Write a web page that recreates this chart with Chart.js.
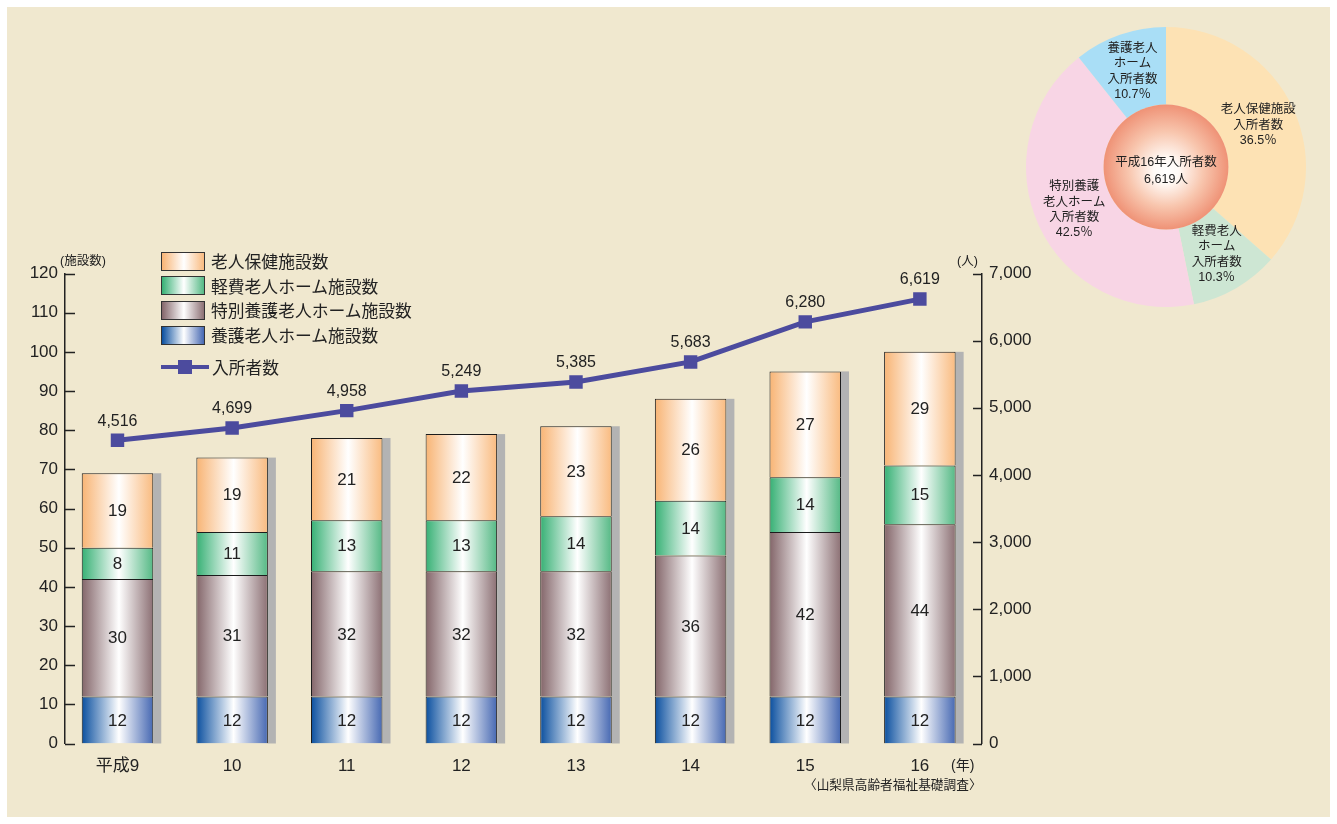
<!DOCTYPE html>
<html lang="ja">
<head>
<meta charset="utf-8">
<title>老人福祉施設数と入所者数の推移</title>
<script src="https://cdn.jsdelivr.net/npm/chart.js@4.4.0/dist/chart.umd.min.js"></script>
<style>
  body { margin: 0; background: #fff; width: 1337px; height: 824px; overflow: hidden;
         font-family: "Liberation Sans", "Noto Sans CJK JP", sans-serif; color: #222; }
  #page { position: absolute; left: 7px; top: 7px; width: 1323px; height: 810px; background: #f0e8cf; }
  canvas { position: absolute; }
  #main { left: 0; top: 0; }
  #pie { left: 1026px; top: 27px; }
  .txt { position: absolute; white-space: nowrap; line-height: 1; }
  .row { position: absolute; left: 161px; height: 20px; display: flex; align-items: center; font-size: 16.8px; white-space: nowrap; }
  .sw { width: 42px; height: 17px; border: 1.5px solid #333; margin-right: 6px; }
  .ln { position: relative; width: 48px; height: 4px; background: #4c4b9e; margin-right: 3px; }
  .ln span { position: absolute; left: 17px; top: -5px; width: 14px; height: 14px; background: #4c4b9e; }
</style>
</head>
<body>
<div id="page"></div>
<canvas id="main" width="1337" height="824"></canvas>
<canvas id="pie" width="280" height="280"></canvas>
<div id="legend"></div>
<div class="txt" style="left:60px; top:255px; font-size:12.5px;">(施設数)</div>
<div class="txt" style="left:957px; top:255px; font-size:12.5px;">(人)</div>
<div class="txt" style="left:951px; top:758px; font-size:14px;">(年)</div>
<div class="txt" style="left:804px; top:779px; font-size:12.7px;">〈山梨県高齢者福祉基礎調査〉</div>
<script>
// data
const years = ["平成9", "10", "11", "12", "13", "14", "15", "16"];
const yogoHome = [12, 12, 12, 12, 12, 12, 12, 12];
const tokuyoHome = [30, 31, 32, 32, 32, 36, 42, 44];
const keihiHome = [8, 11, 13, 13, 14, 14, 14, 15];
const rokenShisetsu = [19, 19, 21, 22, 23, 26, 27, 29];
const nyushosha = [4516, 4699, 4958, 5249, 5385, 5683, 6280, 6619];
const leftTicks = [0, 10, 20, 30, 40, 50, 60, 70, 80, 90, 100, 110, 120];
const rightTicks = [0, 1000, 2000, 3000, 4000, 5000, 6000, 7000];

const pieNames = ["老人保健施設\n入所者数", "軽費老人\nホーム\n入所者数", "特別養護\n老人ホーム\n入所者数", "養護老人\nホーム\n入所者数"];
const pieShares = [36.5, 10.3, 42.5, 10.7];
const pieTitle = ["平成16年入所者数", "6,619人"];

// styles
const FONT = '"Liberation Sans", "Noto Sans CJK JP", sans-serif';
const BAR_PCT = 0.624;
const barColors = {
  yogo: ["#0a4f9f", "#4668b2"],
  tokuyo: ["#836569", "#8c7074"],
  keihi: ["#36b074", "#55b985"],
  roken: ["#f8b474", "#f9bb80"],
};
const pieColors = ["#fde2b4", "#cde6d3", "#f8d5e5", "#a9def6"];
const lineColor = "#4c4b9e";

// legend (html)
const legendItems = [
  ["老人保健施設数", barColors.roken],
  ["軽費老人ホーム施設数", barColors.keihi],
  ["特別養護老人ホーム施設数", barColors.tokuyo],
  ["養護老人ホーム施設数", barColors.yogo],
];
const legend = document.getElementById("legend");
legendItems.forEach(([name, c], i) => {
  const row = document.createElement("div");
  row.className = "row";
  row.style.top = (251 + i * 24.7) + "px";
  row.innerHTML = `<div class="sw" style="background:linear-gradient(to right, ${c[0]}, #fff 52%, ${c[1]})"></div>${name}`;
  legend.appendChild(row);
});
const lineRow = document.createElement("div");
lineRow.className = "row";
lineRow.style.top = "357px";
lineRow.innerHTML = `<div class="ln"><span></span></div>入所者数`;
legend.appendChild(lineRow);

function barFill(c) {
  return (ctx) => {
    const chart = ctx.chart;
    if (!chart.chartArea || ctx.type !== "data") return c[0];
    const xs = chart.scales.x;
    const cx = xs.getPixelForValue(ctx.dataIndex);
    const half = (xs.getPixelForValue(1) - xs.getPixelForValue(0)) * BAR_PCT / 2;
    const g = chart.ctx.createLinearGradient(cx - half, 0, cx + half, 0);
    g.addColorStop(0, c[0]);
    g.addColorStop(0.52, "#ffffff");
    g.addColorStop(1, c[1]);
    return g;
  };
}

function points(arr) {
  return arr.map((v, i) => ({ x: i, y: v }));
}

function barSet(label, arr, c) {
  return {
    type: "bar",
    label,
    data: points(arr),
    backgroundColor: barFill(c),
    borderColor: "#1c1c1c",
    borderWidth: 1,
    barPercentage: BAR_PCT,
    categoryPercentage: 1,
    yAxisID: "y",
    order: 1,
  };
}

// grey shadow at the right of each bar
const shadowPlugin = {
  id: "shadow",
  beforeDatasetsDraw(chart) {
    const c = chart.ctx;
    const bottom = chart.scales.y.getPixelForValue(0);
    c.save();
    c.fillStyle = "#b3b3b3";
    chart.getDatasetMeta(3).data.forEach((bar) => {
      c.fillRect(bar.x + bar.width / 2, bar.y, 8, bottom - bar.y);
    });
    c.restore();
  },
};

// inward tick marks + value labels
const labelPlugin = {
  id: "labels",
  afterDatasetsDraw(chart) {
    const c = chart.ctx;
    const { left, right } = chart.chartArea;
    c.save();
    c.strokeStyle = "#222";
    c.lineWidth = 1.5;
    c.beginPath();
    chart.scales.y.ticks.forEach((t) => {
      const y = Math.round(chart.scales.y.getPixelForValue(t.value)) + 0.5;
      c.moveTo(left, y);
      c.lineTo(left + 10, y);
    });
    chart.scales.y1.ticks.forEach((t) => {
      const y = Math.round(chart.scales.y1.getPixelForValue(t.value)) + 0.5;
      c.moveTo(right, y);
      c.lineTo(right - 9, y);
    });
    c.stroke();

    c.fillStyle = "#222";
    c.textAlign = "center";
    c.textBaseline = "middle";
    c.font = "17px " + FONT;
    for (let d = 0; d < 4; d++) {
      const ds = chart.data.datasets[d];
      chart.getDatasetMeta(d).data.forEach((bar, i) => {
        c.fillText(String(ds.data[i].y), bar.x, (bar.y + bar.base) / 2 + 1);
      });
    }
    c.font = "16px " + FONT;
    chart.getDatasetMeta(4).data.forEach((pt, i) => {
      c.fillText(nyushosha[i].toLocaleString("en-US"), pt.x, pt.y - 19);
    });
    c.restore();
  },
};

new Chart(document.getElementById("main"), {
  data: {
    datasets: [
      barSet("養護老人ホーム施設数", yogoHome, barColors.yogo),
      barSet("特別養護老人ホーム施設数", tokuyoHome, barColors.tokuyo),
      barSet("軽費老人ホーム施設数", keihiHome, barColors.keihi),
      barSet("老人保健施設数", rokenShisetsu, barColors.roken),
      {
        type: "line",
        label: "入所者数",
        data: points(nyushosha),
        borderColor: lineColor,
        backgroundColor: lineColor,
        borderWidth: 5,
        pointStyle: "rect",
        pointRadius: 9.5,
        pointBorderWidth: 0,
        yAxisID: "y1",
        order: 0,
      },
    ],
  },
  options: {
    responsive: false,
    animation: false,
    devicePixelRatio: 1,
    layout: { padding: { top: 273.5, left: 0, right: 0, bottom: 0 } },
    plugins: { legend: { display: false }, tooltip: { enabled: false } },
    scales: {
      x: {
        type: "linear",
        stacked: true,
        offset: false,
        min: -0.458,
        max: 7.542,
        afterBuildTicks: (s) => { s.ticks = years.map((_, i) => ({ value: i })); },
        afterFit: (s) => { s.height = 80.5; },
        grid: { display: false, offset: false },
        border: { display: false },
        ticks: {
          callback: (v) => years[v],
          color: "#222",
          font: { size: 17, family: FONT },
          padding: 5,
          maxRotation: 0,
          autoSkip: false,
        },
      },
      y: {
        position: "left",
        stacked: true,
        min: 0,
        max: 120,
        afterBuildTicks: (s) => { s.ticks = leftTicks.map((v) => ({ value: v })); },
        afterFit: (s) => { s.width = 65; },
        grid: { display: false, drawTicks: false },
        border: { display: true, color: "#222", width: 1.5 },
        ticks: { color: "#222", font: { size: 17, family: FONT }, padding: 7 },
      },
      y1: {
        position: "right",
        min: 0,
        max: 7000,
        afterBuildTicks: (s) => { s.ticks = rightTicks.map((v) => ({ value: v })); },
        afterFit: (s) => { s.width = 355; },
        grid: { display: false, drawTicks: false },
        border: { display: true, color: "#222", width: 1.5 },
        ticks: {
          color: "#222",
          font: { size: 17, family: FONT },
          padding: 7,
          callback: (v) => v.toLocaleString("en-US"),
        },
      },
    },
  },
  plugins: [shadowPlugin, labelPlugin],
});

// doughnut: centre disc + slice labels
const pieDecor = {
  id: "pieDecor",
  afterDatasetsDraw(chart) {
    const c = chart.ctx;
    const arcs = chart.getDatasetMeta(0).data;
    const a0 = arcs[0];
    c.save();
    const g = c.createRadialGradient(a0.x, a0.y + 5, 0, a0.x, a0.y, a0.innerRadius);
    g.addColorStop(0, "#ffffff");
    g.addColorStop(0.2, "#fffaf6");
    g.addColorStop(0.6, "#f8c6ae");
    g.addColorStop(1, "#ef9276");
    c.fillStyle = g;
    c.beginPath();
    c.arc(a0.x, a0.y, a0.innerRadius, 0, Math.PI * 2);
    c.fill();

    c.fillStyle = "#222";
    c.textAlign = "center";
    c.textBaseline = "middle";
    c.font = "12.5px " + FONT;
    c.fillText(pieTitle[0], a0.x, a0.y - 4);
    c.fillText(pieTitle[1], a0.x, a0.y + 13);

    arcs.forEach((arc, i) => {
      const mid = (arc.startAngle + arc.endAngle) / 2;
      const r = (arc.innerRadius + arc.outerRadius) / 2;
      const lines = pieNames[i].split("\n").concat(pieShares[i].toFixed(1) + "％");
      const lh = 15.3;
      const x = arc.x + Math.cos(mid) * r;
      const y0 = arc.y + Math.sin(mid) * r - (lines.length - 1) * lh / 2;
      lines.forEach((t, k) => c.fillText(t, x, y0 + k * lh));
    });
    c.restore();
  },
};

new Chart(document.getElementById("pie"), {
  type: "doughnut",
  data: {
    labels: pieNames,
    datasets: [{ data: pieShares, backgroundColor: pieColors, borderWidth: 0 }],
  },
  options: {
    responsive: false,
    animation: false,
    devicePixelRatio: 1,
    cutout: "44.6%",
    layout: { padding: 0 },
    plugins: { legend: { display: false }, tooltip: { enabled: false } },
  },
  plugins: [pieDecor],
});
</script>
</body>
</html>
